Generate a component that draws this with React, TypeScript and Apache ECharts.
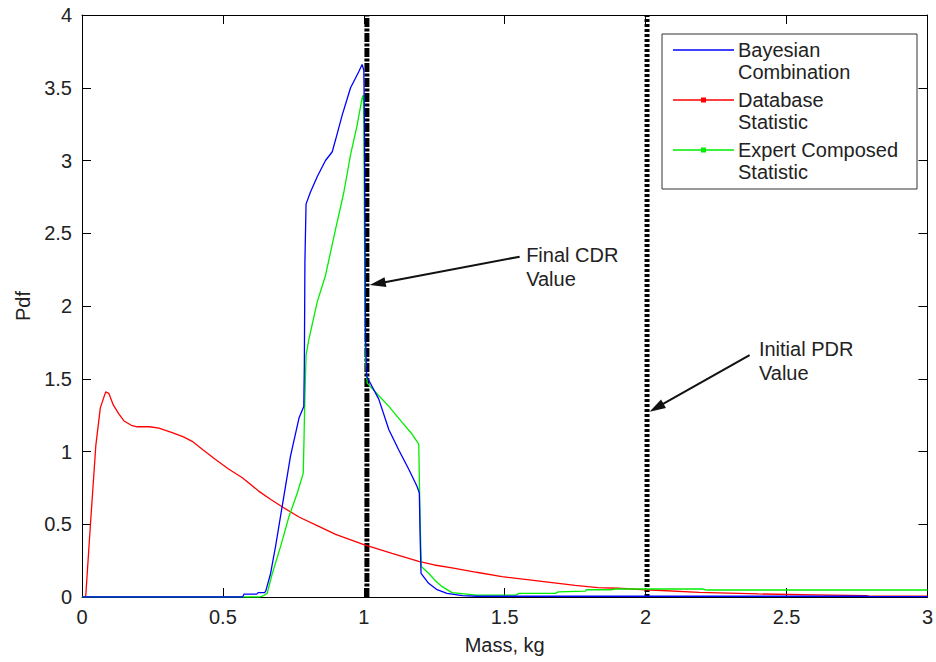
import React, { useEffect, useRef } from "react";
import * as echarts from "echarts";

// ---- Data ----
const xTicks = [0, 0.5, 1, 1.5, 2, 2.5, 3];
const yTicks = [0, 0.5, 1, 1.5, 2, 2.5, 3, 3.5, 4];

const bayesian: number[][] = [
  [0, 0], [0.57, 0], [0.575, 0.02], [0.62, 0.02], [0.625, 0.03], [0.648, 0.03], [0.652, 0.04],
  [0.669, 0.16], [0.687, 0.35], [0.71, 0.62], [0.74, 0.97], [0.77, 1.23], [0.787, 1.31],
  [0.789, 1.6], [0.791, 2.3], [0.795, 2.7], [0.81, 2.78], [0.835, 2.89], [0.864, 3.0],
  [0.888, 3.06], [0.905, 3.18], [0.923, 3.31], [0.953, 3.5], [0.982, 3.61], [0.994, 3.66],
  [1.0, 3.62], [1.002, 3.3], [1.004, 2.5], [1.006, 1.8], [1.01, 1.52], [1.012, 1.51],
  [1.053, 1.36], [1.089, 1.15], [1.124, 1.01], [1.16, 0.876], [1.189, 0.76], [1.197, 0.715],
  [1.2, 0.4], [1.203, 0.163], [1.23, 0.094], [1.26, 0.05], [1.295, 0.025], [1.35, 0.009],
  [1.4, 0.005], [2.78, 0.005], [2.8, 0.002], [3, 0.002],
];

const database: number[][] = [
  [0, 0], [0.013, 0], [0.03, 0.5], [0.049, 1.04], [0.065, 1.3], [0.084, 1.41], [0.095, 1.4],
  [0.111, 1.32], [0.13, 1.26], [0.149, 1.21], [0.175, 1.18], [0.196, 1.17], [0.24, 1.17],
  [0.273, 1.16], [0.32, 1.13], [0.36, 1.1], [0.391, 1.07], [0.43, 1.01], [0.474, 0.945],
  [0.52, 0.88], [0.569, 0.82], [0.628, 0.726], [0.67, 0.67], [0.71, 0.62], [0.77, 0.55],
  [0.84, 0.485], [0.9, 0.43], [1.0, 0.36], [1.1, 0.3], [1.195, 0.245], [1.25, 0.22],
  [1.313, 0.2], [1.4, 0.17], [1.49, 0.14], [1.58, 0.12], [1.668, 0.099], [1.75, 0.08],
  [1.83, 0.064], [1.9, 0.06], [2.02, 0.048], [2.19, 0.032], [2.4, 0.021], [2.6, 0.015],
  [2.78, 0.009], [2.8, 0.005], [3, 0.005],
];

const expert: number[][] = [
  [0, 0], [0.63, 0], [0.645, 0.01], [0.657, 0.025], [0.675, 0.16], [0.705, 0.35], [0.734, 0.55],
  [0.764, 0.715], [0.785, 0.85], [0.788, 1.1], [0.79, 1.3], [0.795, 1.66], [0.805, 1.77],
  [0.835, 2.03], [0.864, 2.21], [0.9, 2.53], [0.929, 2.78], [0.953, 3.04], [0.976, 3.24],
  [0.994, 3.43], [0.998, 3.45], [1.0, 3.3], [1.002, 2.6], [1.004, 2.0], [1.006, 1.63],
  [1.012, 1.47], [1.05, 1.39], [1.089, 1.31], [1.136, 1.2], [1.171, 1.12], [1.195, 1.05],
  [1.199, 0.6], [1.204, 0.21], [1.23, 0.163], [1.255, 0.11], [1.278, 0.071], [1.313, 0.03],
  [1.34, 0.025], [1.4, 0.013], [1.54, 0.013], [1.55, 0.025], [1.68, 0.025], [1.69, 0.035],
  [1.786, 0.04], [1.79, 0.05], [1.88, 0.05], [1.89, 0.055], [2.2, 0.055], [2.22, 0.048],
  [3, 0.048],
];

const cdrValue = 1.011;
const pdrValue = 2.005;

const legendNames = ["Bayesian\nCombination", "Database\nStatistic", "Expert Composed\nStatistic"];
const colors = ["#0000ff", "#ff0000", "#00ee00"];

// annotation anchors (data coordinates)
const cdrArrow = { from: [1.553, 2.339], to: [1.021, 2.144] };
const pdrArrow = { from: [2.369, 1.663], to: [2.014, 1.274] };
const cdrText = { at: [1.576, 2.265], text: "Final CDR\nValue" };
const pdrText = { at: [2.402, 1.619], text: "Initial PDR\nValue" };

const FONT = "'Liberation Sans', Arial, Helvetica, sans-serif";
const TXT = "#222";

export default function App() {
  const ref = useRef<HTMLDivElement>(null);

  useEffect(() => {
    if (!ref.current) return;
    const chart = echarts.init(ref.current, null, { renderer: "svg", width: 936, height: 662 });

    const axisCommon = {
      type: "value" as const,
      axisLine: { show: true, onZero: false, lineStyle: { color: "#000", width: 1 } },
      axisTick: { show: true, inside: true, length: 9, lineStyle: { color: "#000", width: 1 } },
      splitLine: { show: false },
    };

    const option: any = {
      animation: false,
      backgroundColor: "#fff",
      textStyle: { fontFamily: FONT },
      grid: { left: 82, right: 7, top: 15, bottom: 65, containLabel: false },
      xAxis: [
        {
          ...axisCommon,
          min: 0,
          max: 3,
          interval: 0.5,
          position: "bottom",
          name: "Mass, kg",
          nameLocation: "middle",
          nameGap: 38,
          nameTextStyle: { fontSize: 20, color: TXT, fontFamily: FONT },
          axisLabel: {
            fontSize: 20,
            color: TXT,
            margin: 10,
            fontFamily: FONT,
            formatter: (v: number) => (xTicks.includes(v) ? String(v) : ""),
          },
        },
        {
          ...axisCommon,
          min: 0,
          max: 3,
          interval: 0.5,
          position: "top",
          axisLabel: { show: false },
        },
      ],
      yAxis: [
        {
          ...axisCommon,
          min: 0,
          max: 4,
          interval: 0.5,
          position: "left",
          name: "Pdf",
          nameLocation: "middle",
          nameGap: 47,
          nameTextStyle: { fontSize: 20, color: TXT, fontFamily: FONT },
          axisLabel: {
            fontSize: 20,
            color: TXT,
            margin: 10,
            fontFamily: FONT,
            formatter: (v: number) => (yTicks.includes(v) ? String(v) : ""),
          },
        },
        {
          ...axisCommon,
          min: 0,
          max: 4,
          interval: 0.5,
          position: "right",
          axisLabel: { show: false },
        },
      ],
      series: [
        {
          name: "Final CDR",
          type: "line",
          data: [[cdrValue, 0], [cdrValue, 4]],
          symbol: "none",
          silent: true,
          lineStyle: { color: "#000", width: 5, type: [9, 1.5, 3, 1.5] },
          z: 2,
        },
        {
          name: "Initial PDR",
          type: "line",
          data: [[pdrValue, 0], [pdrValue, 4]],
          symbol: "none",
          silent: true,
          lineStyle: { color: "#000", width: 5, type: [3, 2] },
          z: 2,
        },
        {
          name: legendNames[1],
          type: "line",
          data: database,
          symbol: "none",
          lineStyle: { color: colors[1], width: 1.3 },
          z: 3,
        },
        {
          name: legendNames[2],
          type: "line",
          data: expert,
          symbol: "none",
          lineStyle: { color: colors[2], width: 1.3 },
          z: 3,
        },
        {
          name: legendNames[0],
          type: "line",
          data: bayesian,
          symbol: "none",
          lineStyle: { color: colors[0], width: 1.3 },
          z: 4,
        },
      ],
    };

    chart.setOption(option);

    const px = (p: number[]) => chart.convertToPixel({ xAxisIndex: 0, yAxisIndex: 0 }, p) as number[];

    const arrow = (a: { from: number[]; to: number[] }) => {
      const f = px(a.from);
      const t = px(a.to);
      const dx = t[0] - f[0];
      const dy = t[1] - f[1];
      const len = Math.hypot(dx, dy);
      const ux = dx / len;
      const uy = dy / len;
      const L = 16;
      const W = 5;
      const bx = t[0] - ux * L;
      const by = t[1] - uy * L;
      return [
        {
          type: "line",
          shape: { x1: f[0], y1: f[1], x2: bx + ux * 2, y2: by + uy * 2 },
          style: { stroke: "#111", lineWidth: 2 },
          z: 100,
        },
        {
          type: "polygon",
          shape: {
            points: [
              [t[0], t[1]],
              [bx - uy * W, by + ux * W],
              [bx + uy * W, by - ux * W],
            ],
          },
          style: { fill: "#111" },
          z: 100,
        },
      ];
    };

    const note = (n: { at: number[]; text: string }) => {
      const p = px(n.at);
      return {
        type: "text",
        x: p[0],
        y: p[1],
        z: 100,
        style: {
          text: n.text,
          font: `20px ${FONT}`,
          fill: TXT,
          lineHeight: 24,
          textAlign: "left",
          textVerticalAlign: "middle",
        },
      };
    };

    // legend box
    const lgX = 662;
    const lgY = 34;
    const lgW = 255;
    const lgH = 155;
    const rowY = [50, 100, 150];
    const legendEls: any[] = [
      {
        type: "rect",
        shape: { x: lgX, y: lgY, width: lgW, height: lgH },
        style: { fill: "#fff", stroke: "#333", lineWidth: 1 },
        z: 110,
      },
    ];
    legendNames.forEach((name, i) => {
      legendEls.push({
        type: "line",
        shape: { x1: 673, y1: rowY[i], x2: 734, y2: rowY[i] },
        style: { stroke: colors[i], lineWidth: 1.3 },
        z: 111,
      });
      if (i > 0) {
        legendEls.push({
          type: "rect",
          shape: { x: 701, y: rowY[i] - 2.5, width: 5, height: 5 },
          style: { fill: colors[i] },
          z: 111,
        });
      }
      legendEls.push({
        type: "text",
        x: 738,
        y: rowY[i] - 11,
        z: 111,
        style: {
          text: name,
          font: `20px ${FONT}`,
          fill: TXT,
          lineHeight: 22,
          textAlign: "left",
          textVerticalAlign: "top",
        },
      });
    });

    chart.setOption({
      graphic: [
        ...arrow(cdrArrow),
        ...arrow(pdrArrow),
        note(cdrText),
        note(pdrText),
        ...legendEls,
      ],
    });

    return () => chart.dispose();
  }, []);

  return (
    <div
      ref={ref}
      style={{ position: "fixed", left: 0, top: 0, width: 936, height: 662, background: "#fff" }}
    />
  );
}
